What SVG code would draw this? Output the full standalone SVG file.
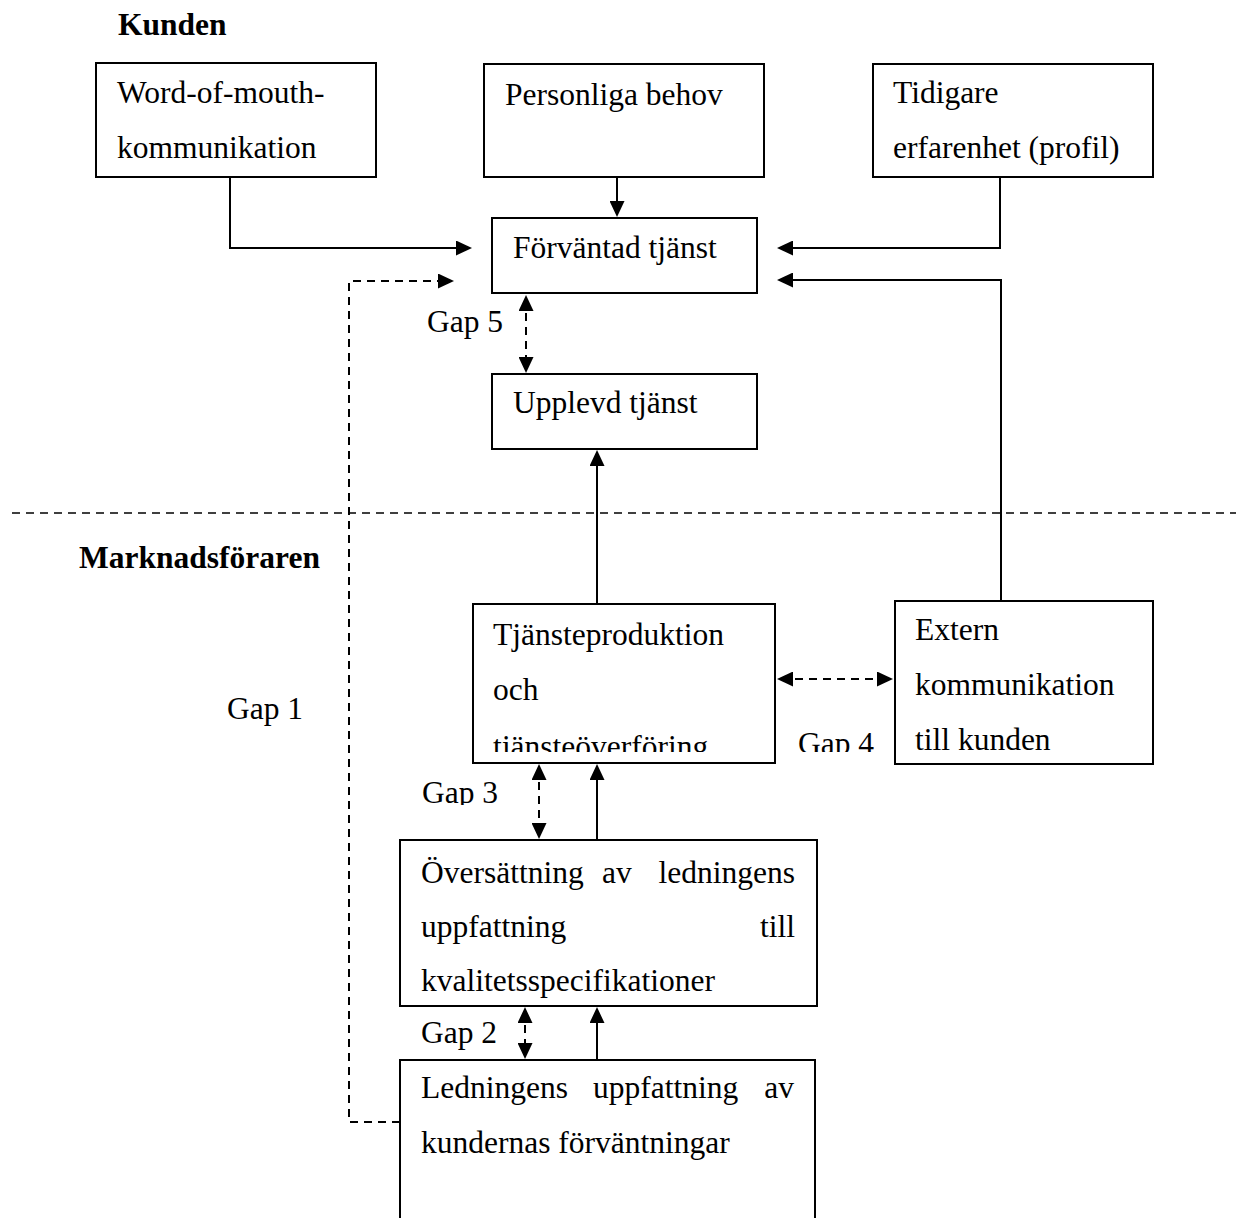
<svg xmlns="http://www.w3.org/2000/svg" width="1236" height="1218" viewBox="0 0 1236 1218">
<style>
text{font-family:"Liberation Serif","Times New Roman",serif;font-size:31.5px;fill:#000}
.b{font-weight:bold}
.box{fill:#fff;stroke:#000;stroke-width:2}
.c{fill:none;stroke:#000;stroke-width:2}
.d{stroke-dasharray:8 6}
.sep{fill:none;stroke:#000;stroke-width:1.4;stroke-dasharray:8 6}
</style>
<defs>
<marker id="ah" markerUnits="userSpaceOnUse" markerWidth="17" markerHeight="15" refX="12" refY="7.5" orient="auto-start-reverse">
<path d="M0,0 L16,7.5 L0,15 z" fill="#000"/>
</marker>
<clipPath id="clipT"><rect x="470" y="600" width="310" height="152"/></clipPath>
<clipPath id="clipG3"><rect x="400" y="760" width="120" height="45"/></clipPath>
<clipPath id="clipG4"><rect x="780" y="700" width="110" height="52"/></clipPath>
</defs>
<rect width="1236" height="1218" fill="#fff"/>

<g id="labels">
<text class="b" x="118" y="35">Kunden</text>
<text class="b" x="79" y="568">Marknadsföraren</text>
<text x="227" y="719">Gap 1</text>
<text x="421" y="1043">Gap 2</text>
<text x="422" y="803" clip-path="url(#clipG3)">Gap 3</text>
<text x="798" y="754" clip-path="url(#clipG4)">Gap 4</text>
<text x="427" y="332">Gap 5</text>
</g>

<line class="sep" x1="12" y1="513" x2="1236" y2="513"/>

<g id="word-of-mouth">
<rect class="box" x="96" y="63" width="280" height="114"/>
<text x="117" y="103">Word-of-mouth-</text>
<text x="117" y="158">kommunikation</text>
</g>
<g id="personliga-behov">
<rect class="box" x="484" y="64" width="280" height="113"/>
<text x="505" y="105">Personliga behov</text>
</g>
<g id="tidigare-erfarenhet">
<rect class="box" x="873" y="64" width="280" height="113"/>
<text x="893" y="103">Tidigare</text>
<text x="893" y="158">erfarenhet (profil)</text>
</g>
<g id="forvantad-tjanst">
<rect class="box" x="492" y="218" width="265" height="75"/>
<text x="513" y="258">Förväntad tjänst</text>
</g>
<g id="upplevd-tjanst">
<rect class="box" x="492" y="374" width="265" height="75"/>
<text x="513" y="413">Upplevd tjänst</text>
</g>
<g id="tjansteproduktion">
<rect class="box" x="473" y="604" width="302" height="159"/>
<text x="493" y="645">Tjänsteproduktion</text>
<text x="493" y="700">och</text>
<text x="493" y="757" clip-path="url(#clipT)">tjänsteöverföring</text>
</g>
<g id="extern-kommunikation">
<rect class="box" x="895" y="601" width="258" height="163"/>
<text x="915" y="640">Extern</text>
<text x="915" y="695">kommunikation</text>
<text x="915" y="750">till kunden</text>
</g>
<g id="oversattning">
<rect class="box" x="400" y="840" width="417" height="166"/>
<text x="421" y="883">Översättning</text>
<text x="602" y="883">av</text>
<text x="795" y="883" text-anchor="end">ledningens</text>
<text x="421" y="937">uppfattning</text>
<text x="795" y="937" text-anchor="end">till</text>
<text x="421" y="991">kvalitetsspecifikationer</text>
</g>
<g id="ledningens-uppfattning">
<path class="box" d="M400,1222 V1060 H815 V1222"/>
<text x="421" y="1098">Ledningens</text>
<text x="593" y="1098">uppfattning</text>
<text x="794" y="1098" text-anchor="end">av</text>
<text x="421" y="1153">kundernas förväntningar</text>
</g>

<g id="connectors">
<path class="c" d="M230,177 V248 H468" marker-end="url(#ah)"/>
<path class="c" d="M617,177 V213" marker-end="url(#ah)"/>
<path class="c" d="M1000,177 V248 H781" marker-end="url(#ah)"/>
<path class="c" d="M1001,601 V280 H781" marker-end="url(#ah)"/>
<path class="c d" d="M400,1122 H349 V281 H450" marker-end="url(#ah)"/>
<path class="c d" d="M526,299 V369" marker-start="url(#ah)" marker-end="url(#ah)"/>
<path class="c" d="M597,604 V454" marker-end="url(#ah)"/>
<path class="c d" d="M781,679 H889" marker-start="url(#ah)" marker-end="url(#ah)"/>
<path class="c d" d="M539,768 V835" marker-start="url(#ah)" marker-end="url(#ah)"/>
<path class="c" d="M597,840 V768" marker-end="url(#ah)"/>
<path class="c d" d="M525,1011 V1055" marker-start="url(#ah)" marker-end="url(#ah)"/>
<path class="c" d="M597,1060 V1011" marker-end="url(#ah)"/>
</g>
</svg>
